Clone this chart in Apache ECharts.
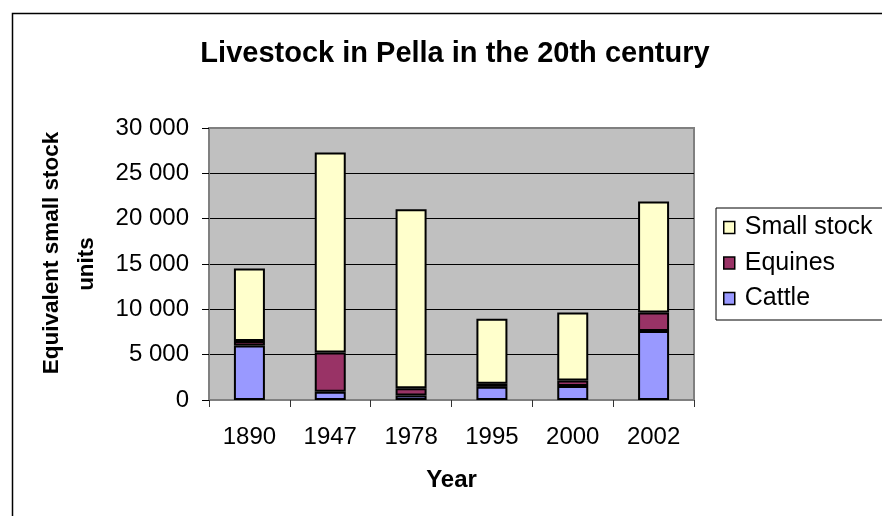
<!DOCTYPE html>
<html>
<head>
<meta charset="utf-8">
<script src="https://cdn.jsdelivr.net/npm/echarts@6/dist/echarts.min.js"></script>
<style>
html,body{margin:0;padding:0;background:#fff;}
#chart{width:882px;height:516px;}
</style>
</head>
<body>
<div id="chart"></div>
<script>
const categories = ['1890', '1947', '1978', '1995', '2000', '2002'];
const cattle = [6000, 900, 500, 1450, 1550, 7600];
const equines = [500, 4350, 800, 350, 600, 2050];
const smallStock = [8000, 22050, 19750, 7150, 7500, 12250];
const yTicks = [0, 5000, 10000, 15000, 20000, 25000, 30000];

const FONT = "'Liberation Sans', Arial, Helvetica, sans-serif";
const chart = echarts.init(document.getElementById('chart'), null, {renderer: 'canvas'});

function fmt(v) {
  if (v === 0) return '0';
  const th = Math.floor(v / 1000);
  const rest = String(v % 1000).padStart(3, '0');
  return th + ' ' + rest;
}

const barStyle = (c) => ({color: c, borderColor: '#000', borderWidth: 2});

chart.setOption({
  backgroundColor: '#fff',
  animation: false,
  title: {
    text: 'Livestock in Pella in the 20th century',
    left: 450,
    top: 34,
    textAlign: 'center',
    textStyle: {fontFamily: FONT, fontSize: 29, fontWeight: 'bold', color: '#000'}
  },
  graphic: [{
    type: 'rect',
    shape: {x: 12.5, y: 13.5, width: 900, height: 600},
    style: {fill: 'none', stroke: '#000', lineWidth: 1.5},
    silent: true,
    z: -10
  }],
  legend: {
    orient: 'vertical',
    left: 716,
    top: 208,
    data: ['Small stock', 'Equines', 'Cattle'],
    icon: 'rect',
    itemWidth: 11,
    itemHeight: 12,
    itemGap: 10.5,
    padding: [7, 20, 9, 7],
    backgroundColor: '#fff',
    borderColor: '#000',
    borderWidth: 1,
    itemStyle: {borderWidth: 1.5, borderColor: '#000'},
    textStyle: {fontFamily: FONT, fontSize: 25, color: '#000', padding: [0, 0, 0, 5]}
  },
  grid: {
    left: 209, right: 188, top: 128, bottom: 116,
    show: true,
    backgroundColor: '#c0c0c0',
    borderColor: '#808080',
    borderWidth: 2
  },
  xAxis: {
    type: 'category',
    data: categories,
    name: 'Year',
    nameLocation: 'middle',
    nameGap: 68,
    nameTextStyle: {fontFamily: FONT, fontSize: 24, fontWeight: 'bold', color: '#000', verticalAlign: 'top'},
    axisLine: {show: true, lineStyle: {color: '#808080', width: 2}},
    axisTick: {show: true, length: 7, lineStyle: {color: '#333', width: 1}},
    axisLabel: {fontFamily: FONT, fontSize: 24, color: '#000', margin: 25},
    splitLine: {show: false}
  },
  yAxis: {
    type: 'value',
    min: 0,
    max: 30000,
    interval: 5000,
    name: '{a|Equivalent small stock}\n{b|units}',
    nameLocation: 'middle',
    nameGap: 97,
    nameRotate: 90,
    nameTextStyle: {
      fontFamily: FONT, fontSize: 22.5, fontWeight: 'bold', color: '#000', lineHeight: 35, align: 'center',
      rich: {
        a: {fontFamily: FONT, fontSize: 22.5, fontWeight: 'bold', color: '#000', lineHeight: 35, padding: [0, 0, 0, 22]},
        b: {fontFamily: FONT, fontSize: 22.5, fontWeight: 'bold', color: '#000', lineHeight: 35, padding: [0, 0, 0, 0]}
      }
    },
    axisLine: {show: true, lineStyle: {color: '#808080', width: 2}},
    axisTick: {show: true, length: 7, lineStyle: {color: '#000', width: 1}},
    axisLabel: {fontFamily: FONT, fontSize: 24, color: '#000', margin: 20, formatter: fmt,
      customValues: yTicks},
    splitLine: {show: true, showMinLine: false, showMaxLine: false, lineStyle: {color: '#000', width: 1}}
  },
  series: [
    {name: 'Cattle', type: 'bar', stack: 'total', data: cattle, barWidth: 31, itemStyle: barStyle('#9999ff')},
    {name: 'Equines', type: 'bar', stack: 'total', data: equines, barWidth: 31, itemStyle: barStyle('#993366')},
    {name: 'Small stock', type: 'bar', stack: 'total', data: smallStock, barWidth: 31, itemStyle: barStyle('#ffffcc')}
  ]
});
</script>
</body>
</html>
